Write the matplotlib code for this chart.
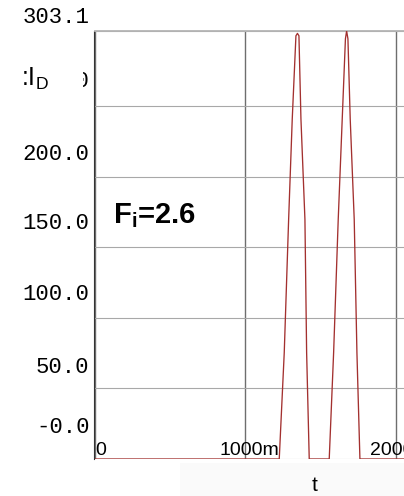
import matplotlib
matplotlib.use("Agg")
import matplotlib.pyplot as plt
from matplotlib.transforms import ScaledTranslation
from matplotlib.patches import Rectangle

plt.rcParams['mathtext.default'] = 'regular'
plt.rcParams['font.family'] = ['Liberation Sans', 'DejaVu Sans']

# ---- data (time in ms, drain current) ----
t_ms = [0.0, 1.2246, 1.2578, 1.2870, 1.3110, 1.3355, 1.3455, 1.3555, 1.3688, 1.3953, 1.4066, 1.4239,
        1.5568, 1.5860, 1.6166, 1.6432, 1.6645, 1.6724, 1.6811, 1.6963, 1.7229, 1.7409, 1.7608, 2.2]
i_d = [0, 0, 75.3, 169.7, 240.8, 299.7, 301.4, 299.7, 240.8, 169.7, 75.3, 0,
       0, 75.3, 169.7, 240.8, 297.6, 303.1, 297.6, 240.8, 169.7, 75.3, 0, 0]

x_ticks = [0, 1, 2]
x_labels = ['0', '1000m', '2000m']
y_ticks = [0, 50, 100, 150, 200, 250, 303.1]
y_labels = ['-0.0', '50.0', '100.0', '150.0', '200.0', '250.0', '303.1']
annotation = 'F$_i$=2.6'
y_title = ':I$_D$'
x_title = 't'

# ---- layout / style ----
W, H = 404, 496
y_lift_px = [34, 23, 26, 26, 25, 27, 16]

fig = plt.figure(figsize=(W / 100, H / 100), dpi=100)
fig.add_artist(Rectangle((180 / W, 0), (W - 180) / W, 33 / H, transform=fig.transFigure,
                         facecolor='#fafafa', edgecolor='none', zorder=-1))

ax = fig.add_axes([95 / W, 1 - 459 / H, (426 - 95) / W, 428 / H])
ax.plot(t_ms, i_d, color='#a3302f', lw=0.95, zorder=3)
ax.set_xlim(0, 2.2)
ax.set_ylim(0, 303.1)

ax.set_xticks(x_ticks, labels=x_labels)
ax.set_yticks(y_ticks, labels=y_labels)
ax.tick_params(axis='both', length=0)
ax.tick_params(axis='x', pad=-12.5, labelsize=14)
ax.tick_params(axis='y', pad=3.0, labelsize=16)

ax.grid(axis='y', color='#a8a8a8', lw=0.8)
ax.grid(axis='x', color='#6e6e6e', lw=1.0)

for s in ['right', 'bottom']:
    ax.spines[s].set_visible(False)
ax.spines['top'].set_color('#b4b4b4')
ax.spines['top'].set_linewidth(1.3)
ax.spines['left'].set_color('#333333')
ax.spines['left'].set_linewidth(0.8)
ax.spines['left'].set_position(('outward', 1.0))

for lab in ax.get_yticklabels():
    lab.set_fontfamily('Liberation Mono')
for lab, lift in zip(ax.get_yticklabels(), y_lift_px):
    lab.set_transform(lab.get_transform() + ScaledTranslation(0, lift / 100, fig.dpi_scale_trans))

xl = ax.get_xticklabels()
xl[0].set_ha('left')
for lab in xl[1:]:
    lab.set_transform(lab.get_transform() + ScaledTranslation(4 / 100, 0, fig.dpi_scale_trans))

ax.set_xlabel(x_title, fontsize=15)
ax.xaxis.set_label_coords((315 - 95) / 331, (459 - 476) / 428)

# white box hiding part of the 250.0 label, with the y title on top
fig.add_artist(Rectangle((10 / W, 1 - 96 / H), 73 / W, 34 / H, transform=fig.transFigure,
                         facecolor='white', edgecolor='none', zorder=5))
fig.text(21 / W, 1 - 86 / H, y_title, fontsize=18, ha='left', va='baseline', zorder=6)

fig.text(113 / W, 1 - 223 / H, annotation, fontsize=21, fontweight='bold',
         ha='left', va='baseline', zorder=6)

fig.savefig('out.png', dpi=100)
